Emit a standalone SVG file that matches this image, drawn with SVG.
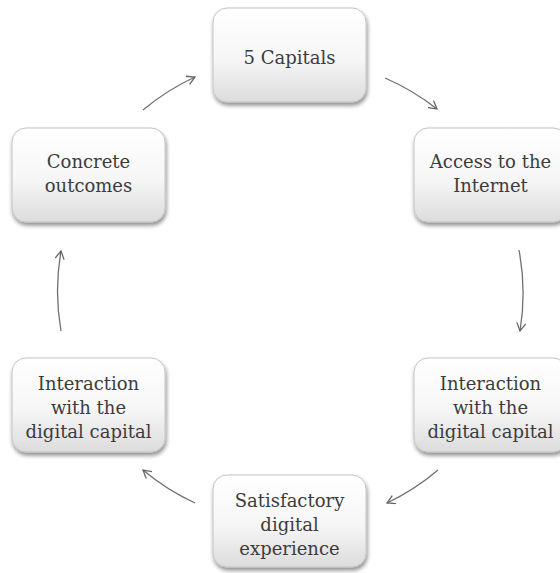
<svg xmlns="http://www.w3.org/2000/svg" width="560" height="573" viewBox="0 0 560 573">
<defs>
<linearGradient id="g" x1="0" y1="0" x2="0" y2="1">
<stop offset="0" stop-color="#ffffff"/>
<stop offset="0.55" stop-color="#f6f6f6"/>
<stop offset="1" stop-color="#dcdcdc"/>
</linearGradient>
<filter id="sh" x="-10%" y="-10%" width="120%" height="125%">
<feGaussianBlur in="SourceAlpha" stdDeviation="2.2"/>
<feOffset dx="1" dy="3"/>
<feComponentTransfer><feFuncA type="linear" slope="0.45"/></feComponentTransfer>
<feMerge><feMergeNode/><feMergeNode in="SourceGraphic"/></feMerge>
</filter>
<marker id="ah" markerWidth="12" markerHeight="12" refX="9" refY="5" orient="auto" markerUnits="userSpaceOnUse">
<path d="M1,0.5 L9,5 L1,9.5" fill="none" stroke="#666" stroke-width="1.3"/>
</marker>
</defs>
<style>
.box{fill:url(#g);stroke:#c4c4c4;stroke-width:1;filter:url(#sh)}
.t{font-family:'DejaVu Serif',serif;font-size:18px;fill:#3c3c3c;text-anchor:middle}
.c{fill:none;stroke:#707070;stroke-width:1.3;marker-end:url(#ah)}
</style>
<g id="connectors">
<path class="c" d="M143,110 A232,232 0 0 1 195,77"/>
<path class="c" d="M385,78 A232,232 0 0 1 437,109"/>
<path class="c" d="M519,250 A232,232 0 0 1 520,331"/>
<path class="c" d="M438,470 A232,232 0 0 1 387,503"/>
<path class="c" d="M195,503 A232,232 0 0 1 143,470"/>
<path class="c" d="M61,331 A232,232 0 0 1 61,251"/>
</g>
<g id="n1">
<rect class="box" x="213" y="8" width="153" height="94" rx="14"/>
<text class="t" x="289.5" y="64">5 Capitals</text>
</g>
<g id="n2">
<rect class="box" x="414" y="128" width="153" height="94" rx="14"/>
<text class="t" x="490.5" y="168">Access to the</text>
<text class="t" x="490.5" y="192">Internet</text>
</g>
<g id="n3">
<rect class="box" x="414" y="358" width="153" height="94" rx="14"/>
<text class="t" x="490.5" y="390">Interaction</text>
<text class="t" x="490.5" y="414">with the</text>
<text class="t" x="490.5" y="438">digital capital</text>
</g>
<g id="n4">
<rect class="box" x="213" y="475" width="153" height="92" rx="14"/>
<text class="t" x="289.5" y="507">Satisfactory</text>
<text class="t" x="289.5" y="531">digital</text>
<text class="t" x="289.5" y="555">experience</text>
</g>
<g id="n5">
<rect class="box" x="12" y="358" width="153" height="94" rx="14"/>
<text class="t" x="88.5" y="390">Interaction</text>
<text class="t" x="88.5" y="414">with the</text>
<text class="t" x="88.5" y="438">digital capital</text>
</g>
<g id="n6">
<rect class="box" x="12" y="128" width="153" height="94" rx="14"/>
<text class="t" x="88.5" y="168">Concrete</text>
<text class="t" x="88.5" y="192">outcomes</text>
</g>
</svg>
